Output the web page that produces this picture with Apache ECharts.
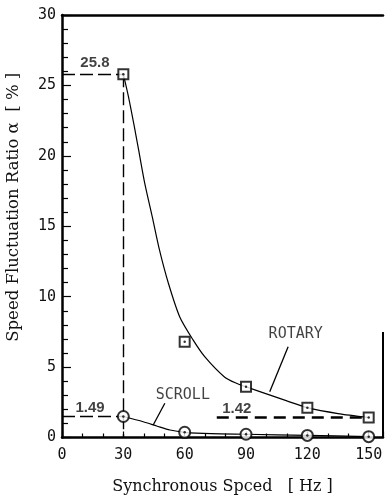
<!DOCTYPE html>
<html>
<head>
<meta charset="utf-8">
<script src="https://cdn.jsdelivr.net/npm/echarts@6/dist/echarts.min.js"></script>
<style>
html,body{margin:0;padding:0;background:#fff;}
#chart{width:387px;height:496px;}
</style>
</head>
<body>
<div id="chart"></div>
<script>
// ---- data ----
const xTicks = [0, 30, 60, 90, 120, 150];
const yTicks = [0, 5, 10, 15, 20, 25, 30];

const rotaryX = [30, 60, 90, 120, 150];
const rotaryY = [25.8, 6.8, 3.6, 2.12, 1.42];

const scrollX = [30, 60, 90, 120, 150];
const scrollY = [1.49, 0.37, 0.23, 0.15, 0.06];

// fitted curves as traced on the picture
const rotaryFitX = [30, 32.5, 35.4, 37.5, 40.4, 44.1, 47.7, 52.0, 57.6, 64.1, 69.9, 79.6, 85.3, 90, 100, 110, 120, 135, 150];
const rotaryFitY = [25.8, 24.2, 22.05, 20.4, 18.1, 15.7, 13.3, 10.97, 8.56, 6.93, 5.72, 4.28, 3.85, 3.6, 3.1, 2.6, 2.12, 1.7, 1.42];
const scrollFitX = [30, 39.7, 46.3, 52.8, 60, 73, 90, 120, 150];
const scrollFitY = [1.49, 1.12, 0.82, 0.53, 0.37, 0.27, 0.23, 0.15, 0.06];

// reference value lines
const peakRotary = 25.8;
const lowScroll = 1.49;
const lowRotary = 1.42;
const lowRotaryFrom = 75.7;

// annotation texts and arrows
const noteNames = ['ROTARY', 'SCROLL'];
const notePos = [[114.3, 7.35], [59.1, 3.02]];
const arrowFrom = [[110.6, 6.45], [50.3, 2.43]];
const arrowTo = [[101.6, 3.25], [44.6, 0.89]];
const valueNames = ['25.8', '1.49', '1.42'];
const valuePos = [[16.1, 26.6], [13.7, 2.1], [85.5, 2.03]];

const xMax = 157;
const frameRightTop = 7.5;

const pairs = (xs, ys) => xs.map((x, i) => [x, ys[i]]);

const monoFont = '"DejaVu Sans Mono", monospace';
const serifFont = '"DejaVu Serif", "Liberation Serif", serif';

const chart = echarts.init(document.getElementById('chart'));
chart.setOption({
  animation: false,
  backgroundColor: '#fff',
  grid: { left: 62, right: 4, top: 15, bottom: 58.5, outerBoundsMode: 'none', containLabel: false },
  xAxis: [{
    type: 'value', min: 0, max: xMax, interval: 30,
    name: 'Synchronous Spced   [ Hz ]', nameLocation: 'middle', nameGap: 41,
    nameTextStyle: { fontFamily: serifFont, fontSize: 16, color: '#111' },
    axisLine: { show: true, onZero: false, lineStyle: { color: '#000', width: 2.5 } },
    axisTick: { show: true, inside: true, length: 6, lineStyle: { color: '#000', width: 1.2 } },
    minorTick: { show: true, splitNumber: 3, length: 4, lineStyle: { color: '#000', width: 1.2 } },
    axisLabel: { showMaxLabel: false, margin: 10, fontFamily: monoFont, fontSize: 15, color: '#111',
      formatter: v => xTicks.includes(v) ? String(v) : '' },
    splitLine: { show: false }
  }, {
    type: 'value', min: 0, max: xMax, position: 'top',
    axisLine: { show: true, onZero: false, lineStyle: { color: '#000', width: 2.5 } },
    axisTick: { show: false }, axisLabel: { show: false }, splitLine: { show: false }
  }],
  yAxis: {
    type: 'value', min: 0, max: 30, interval: 5,
    name: 'Speed Fluctuation Ratio \u03b1  [ % ]', nameLocation: 'middle', nameGap: 40,
    nameTextStyle: { fontFamily: serifFont, fontSize: 16.5, color: '#111', padding: [0, 0, 0, 38] },
    axisLine: { show: true, onZero: false, lineStyle: { color: '#000', width: 2.5 } },
    axisTick: { show: true, inside: true, length: 9, lineStyle: { color: '#000', width: 1.2 } },
    minorTick: { show: true, splitNumber: 5, length: 6, lineStyle: { color: '#000', width: 1.2 } },
    axisLabel: { margin: 6, fontFamily: monoFont, fontSize: 15, color: '#111',
      formatter: v => yTicks.includes(v) ? String(v) : '' },
    splitLine: { show: false }
  },
  series: [
    {
      name: 'rotaryFit', type: 'line', smooth: 0.25, symbol: 'none',
      data: pairs(rotaryFitX, rotaryFitY),
      lineStyle: { color: '#000', width: 1.2 }, z: 2,
      markLine: {
        silent: true, symbol: ['none', 'none'], label: { show: false },
        lineStyle: { color: '#000', width: 1.4, type: [13, 5] },
        data: [
          [{ coord: [0, peakRotary] }, { coord: [rotaryX[0], peakRotary] }],
          [{ coord: [rotaryX[0], peakRotary] }, { coord: [rotaryX[0], 0] }],
          [{ coord: [0, lowScroll] }, { coord: [scrollX[0], lowScroll] }],
          [{ coord: [lowRotaryFrom, lowRotary] }, { coord: [rotaryX[4], lowRotary],
             lineStyle: { width: 2.6, type: [12, 7] } }],
          [{ coord: [xMax, 0], lineStyle: { type: 'solid', width: 2 } }, { coord: [xMax, frameRightTop] }]
        ]
      }
    },
    {
      name: 'scrollFit', type: 'line', smooth: 0.25, symbol: 'none',
      data: pairs(scrollFitX, scrollFitY),
      lineStyle: { color: '#000', width: 1.2 }, z: 2,
      markLine: {
        silent: true, symbol: ['none', 'arrow'], symbolSize: [0, 15], label: { show: false },
        lineStyle: { color: '#000', width: 1.3, type: 'solid' },
        data: arrowFrom.map((p, i) => [{ coord: p }, { coord: arrowTo[i] }])
      }
    },
    {
      name: 'ROTARY', type: 'scatter', symbol: 'emptyRect', symbolSize: 10,
      data: pairs(rotaryX, rotaryY),
      itemStyle: { color: '#000', borderWidth: 1.6 }, z: 5
    },
    {
      name: 'SCROLL', type: 'scatter', symbol: 'emptyCircle', symbolSize: 11,
      data: pairs(scrollX, scrollY),
      itemStyle: { color: '#000', borderWidth: 1.4 }, z: 5
    },
    {
      name: 'dots', type: 'scatter', symbol: 'circle', symbolSize: 2.5,
      data: pairs(rotaryX, rotaryY).concat(pairs(scrollX, scrollY)),
      itemStyle: { color: '#000' }, z: 6
    },
    {
      name: 'notes', type: 'scatter', symbolSize: 0, silent: true,
      data: noteNames.map((n, i) => ({ name: n, value: notePos[i] })).concat(
            valueNames.map((n, i) => ({ name: n, value: valuePos[i],
              label: { fontFamily: 'Liberation Sans, Arial, sans-serif', fontWeight: 'bold', fontSize: 15 } }))),
      label: { show: true, position: 'inside', formatter: p => p.name,
        fontFamily: monoFont, fontSize: 15, color: '#111' },
      z: 7
    }
  ]
});
</script>
</body>
</html>
